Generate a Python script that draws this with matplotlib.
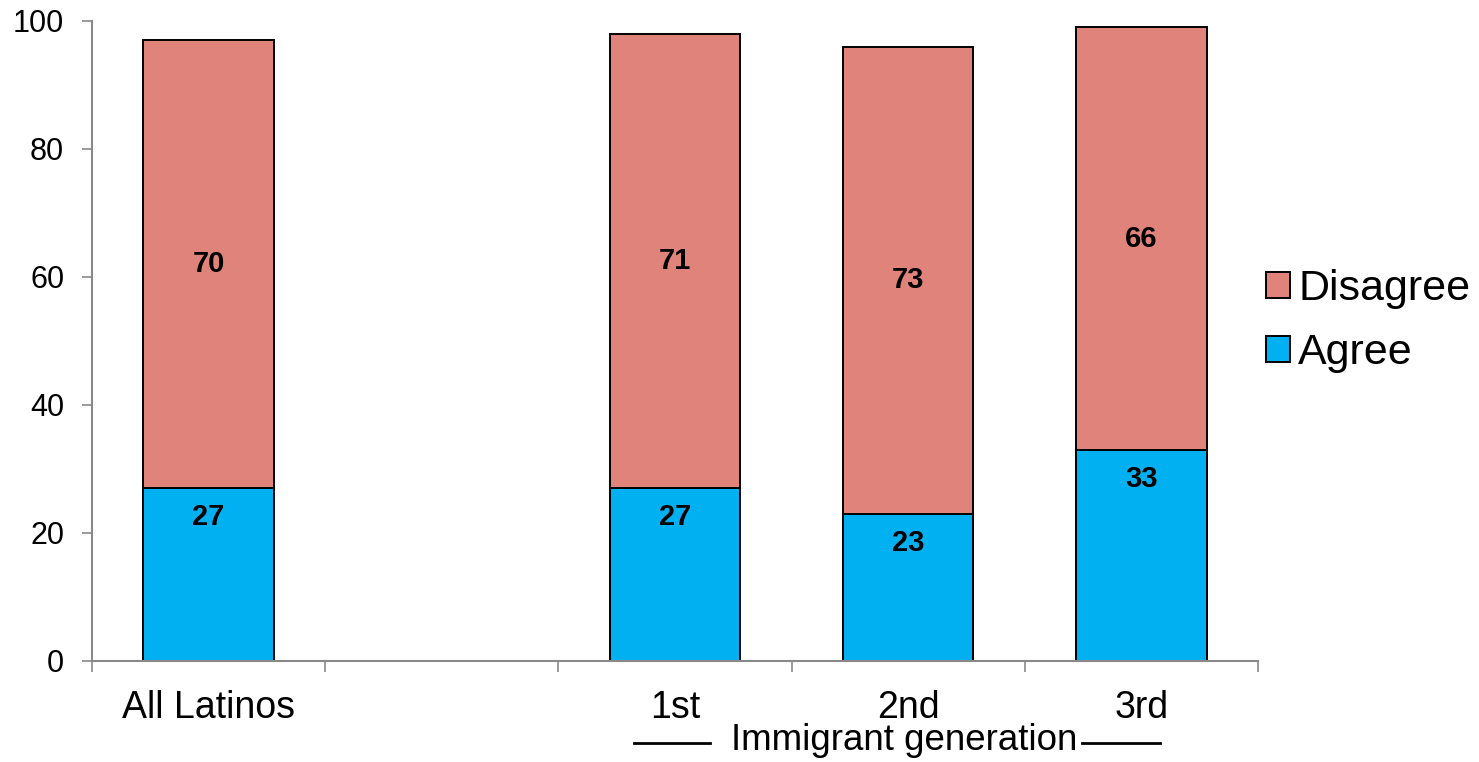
import matplotlib.pyplot as plt
from matplotlib.lines import Line2D

plt.rcParams['font.family'] = ['Liberation Sans', 'DejaVu Sans']

categories = ["All Latinos", "", "1st", "2nd", "3rd"]
agree = [27, None, 27, 23, 33]
disagree = [70, None, 71, 73, 66]

agree_color = '#00B0F0'
disagree_color = '#E0837A'
axis_color = '#898989'

fig = plt.figure(figsize=(14.79, 7.62), dpi=100)
ax = fig.add_axes([92 / 1479, 101 / 762, (1258 - 92) / 1479, 640 / 762])

# only categories with data get bars
xs = [i for i, v in enumerate(agree) if v is not None]
ag = [agree[i] for i in xs]
dis = [disagree[i] for i in xs]

b1 = ax.bar(xs, ag, width=0.56, color=agree_color, edgecolor='black', linewidth=1.4, label='Agree')
b2 = ax.bar(xs, dis, width=0.56, bottom=ag, color=disagree_color, edgecolor='black', linewidth=1.4, label='Disagree')

# labels: agree near top of its segment, disagree centred
for x, a, d in zip(xs, ag, dis):
    ax.annotate(str(a), (x, a), xytext=(0, -21), textcoords='offset points',
                ha='center', va='center', fontsize=21, fontweight='bold')
    ax.text(x, a + d / 2, str(d), ha='center', va='center', fontsize=21, fontweight='bold')

ax.set_xlim(-0.5, len(categories) - 0.5)
ax.set_ylim(0, 100)
ax.set_yticks(range(0, 101, 20))
ax.set_xticks(range(len(categories)))
ax.set_xticklabels(categories)
ax.set_xticks([i - 0.5 for i in range(len(categories) + 1)], minor=True)

for s in ['top', 'right']:
    ax.spines[s].set_visible(False)
for s in ['left', 'bottom']:
    ax.spines[s].set_color(axis_color)
    ax.spines[s].set_linewidth(1.5)

ax.tick_params(axis='x', which='major', length=0, labelsize=27, pad=21)
ax.tick_params(axis='x', which='minor', length=8, width=1.2, color=axis_color)
ax.tick_params(axis='y', length=7, width=1.2, color=axis_color, labelsize=22, pad=13)

handles = [b2, b1]
fig.legend(handles, [h.get_label() for h in handles], loc='center left',
           bbox_to_anchor=(1266 / 1479, (762 - 321) / 762), frameon=False,
           fontsize=31, handlelength=0.55, handleheight=0.55, handletextpad=0.2,
           labelspacing=0.55, borderpad=0, borderaxespad=0)

# group label under the generations
fig.text(904 / 1479, (762 - 741) / 762, 'Immigrant generation', ha='center', va='center', fontsize=26.5)
fig.add_artist(Line2D([634 / 1479, 710 / 1479], [(762 - 743) / 762] * 2, color='black', linewidth=2))
fig.add_artist(Line2D([1082 / 1479, 1160 / 1479], [(762 - 743) / 762] * 2, color='black', linewidth=2))

fig.savefig('out.png', dpi=100)
